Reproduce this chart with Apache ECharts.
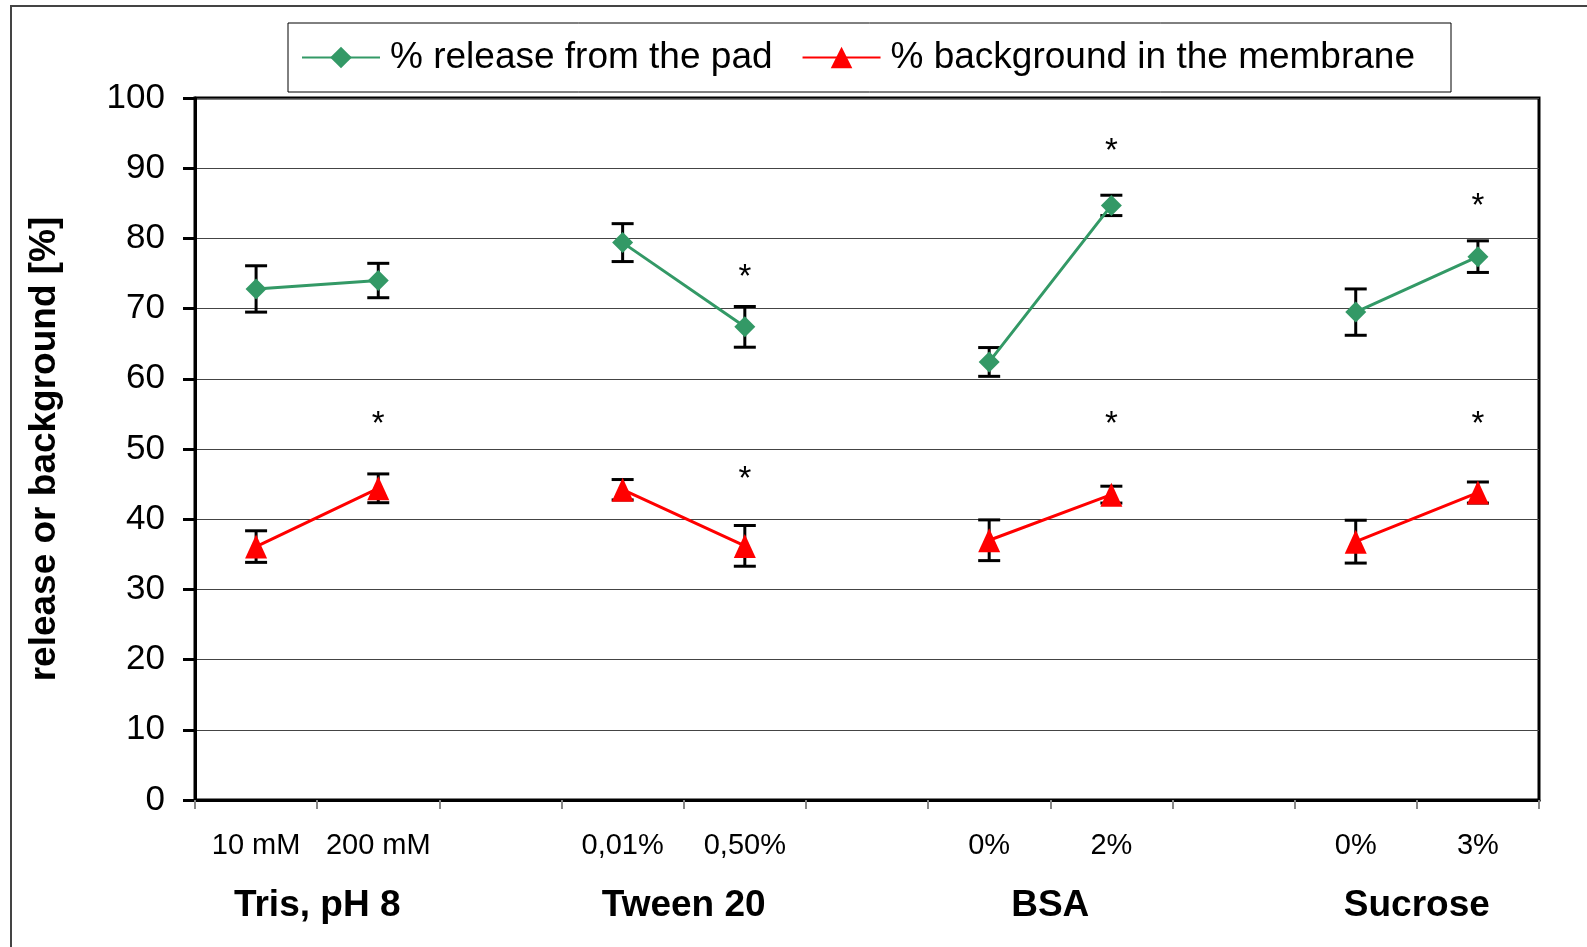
<!DOCTYPE html>
<html>
<head>
<meta charset="utf-8">
<script src="https://cdn.jsdelivr.net/npm/echarts@6/dist/echarts.min.js"></script>
<style>
html,body{margin:0;padding:0;background:#fff;}
#chart{width:1587px;height:947px;}
</style>
</head>
<body>
<div id="chart"></div>
<script>
// ---- data ----
var catLabels = ['10 mM', '200 mM', '', '0,01%', '0,50%', '', '0%', '2%', '', '0%', '3%'];
var groupLabels = ['Tris, pH 8', 'Tween 20', 'BSA', 'Sucrose'];
var groupPositions = [1, 4, 7, 10]; // boundary index between the two categories of each group
var releaseValues = [72.8, 74.0, '-', 79.4, 67.4, '-', 62.4, 84.7, '-', 69.5, 77.4];
var releaseErrors = [3.3, 2.45, '-', 2.7, 2.9, '-', 2.05, 1.45, '-', 3.3, 2.25];
var backgroundValues = [36.1, 44.4, '-', 44.2, 36.2, '-', 37.0, 43.5, '-', 36.8, 43.8];
var backgroundErrors = [2.25, 2.05, '-', 1.45, 2.9, '-', 2.9, 1.2, '-', 3.05, 1.5];
var releaseStars = [[4, 75.5], [7, 93.4], [10, 85.6]];
var backgroundStars = [[1, 54.6], [4, 46.7], [7, 54.6], [10, 54.6]];
var yTicks = [0, 10, 20, 30, 40, 50, 60, 70, 80, 90, 100];

var seriesNames = ['% release from the pad', '% background in the membrane'];
var green = '#339966';
var red = '#ff0000';

function errData(vals, errs) {
  var out = [];
  for (var i = 0; i < vals.length; i++) {
    if (vals[i] === '-') continue;
    out.push([i, vals[i] - errs[i], vals[i] + errs[i]]);
  }
  return out;
}

function renderErr(params, api) {
  var x = api.value(0);
  var lo = api.coord([x, api.value(1)]);
  var hi = api.coord([x, api.value(2)]);
  var hw = 11;
  var st = {stroke: '#000', lineWidth: 3};
  return {
    type: 'group',
    children: [
      {type: 'line', shape: {x1: lo[0], y1: lo[1], x2: hi[0], y2: hi[1]}, style: st},
      {type: 'line', shape: {x1: lo[0] - hw, y1: lo[1], x2: lo[0] + hw, y2: lo[1]}, style: st},
      {type: 'line', shape: {x1: hi[0] - hw, y1: hi[1], x2: hi[0] + hw, y2: hi[1]}, style: st}
    ]
  };
}

function renderStar(params, api) {
  var p = api.coord([api.value(0), api.value(1)]);
  return {
    type: 'text',
    style: {
      x: p[0], y: p[1] + 8, text: '*',
      fill: '#000', font: '33px "Liberation Sans", Arial, sans-serif',
      align: 'center', verticalAlign: 'middle'
    }
  };
}

var chart = echarts.init(document.getElementById('chart'), null, {renderer: 'canvas'});
var font = '"Liberation Sans", Arial, sans-serif';

chart.setOption({
  animation: false,
  backgroundColor: '#fff',
  textStyle: {fontFamily: font},
  graphic: [{
    type: 'rect', silent: true, z: -10,
    shape: {x: 11, y: 6, width: 1700, height: 1100},
    style: {fill: 'none', stroke: '#444', lineWidth: 2}
  }],
  legend: {
    data: seriesNames,
    left: 288, top: 23,
    orient: 'horizontal',
    itemWidth: 78, itemHeight: 27, itemGap: 29,
    padding: [16, 36, 16, 13],
    borderColor: '#000', borderWidth: 1,
    textStyle: {fontSize: 37, color: '#000', fontFamily: font, padding: [0, 0, 0, 5]}
  },
  grid: {
    left: 195, right: 48, top: 98, bottom: 147,
    show: true, borderColor: '#000', borderWidth: 3, backgroundColor: 'transparent'
  },
  xAxis: [{
    type: 'category',
    data: catLabels.map(function (d, i) { return 'c' + i; }),
    boundaryGap: true,
    axisLine: {lineStyle: {color: '#000', width: 3}},
    axisTick: {show: true, interval: 0, length: 9, lineStyle: {color: '#888', width: 2}},
    axisLabel: {
      interval: 0, margin: 31, fontSize: 29, color: '#000', fontFamily: font,
      formatter: function (v, i) { return catLabels[i]; }
    },
    splitLine: {show: false}
  }, {
    type: 'value',
    position: 'bottom',
    min: 0, max: 11, interval: 1,
    axisLine: {show: false}, axisTick: {show: false}, splitLine: {show: false},
    axisLabel: {
      margin: 87, fontSize: 37, fontWeight: 'bold', color: '#000', fontFamily: font,
      showMinLabel: true, showMaxLabel: true,
      formatter: function (v) {
        var k = groupPositions.indexOf(Math.round(v));
        return k >= 0 ? groupLabels[k] : '';
      }
    }
  }],
  yAxis: {
    type: 'value',
    min: yTicks[0], max: yTicks[yTicks.length - 1], interval: 10,
    name: 'release or background [%]',
    nameLocation: 'middle', nameGap: 132,
    nameTextStyle: {fontSize: 37, fontWeight: 'bold', color: '#000', fontFamily: font},
    axisLine: {show: true, lineStyle: {color: '#000', width: 3}},
    axisTick: {show: true, length: 12, lineStyle: {color: '#000', width: 3}},
    axisLabel: {margin: 30, fontSize: 35, color: '#000', fontFamily: font},
    splitLine: {show: true, lineStyle: {color: '#444', width: 1}}
  },
  series: [{
    type: 'custom', xAxisIndex: 0, yAxisIndex: 0, z: 1,
    renderItem: renderErr, data: errData(releaseValues, releaseErrors), silent: true
  }, {
    type: 'custom', xAxisIndex: 0, yAxisIndex: 0, z: 1,
    renderItem: renderErr, data: errData(backgroundValues, backgroundErrors), silent: true
  }, {
    name: seriesNames[0], type: 'line', xAxisIndex: 0, yAxisIndex: 0, z: 3,
    data: releaseValues, connectNulls: false,
    symbol: 'diamond', symbolSize: 21, showAllSymbol: true,
    lineStyle: {color: green, width: 3},
    itemStyle: {color: green}
  }, {
    name: seriesNames[1], type: 'line', xAxisIndex: 0, yAxisIndex: 0, z: 3,
    data: backgroundValues, connectNulls: false,
    symbol: 'triangle', symbolSize: [22, 24], showAllSymbol: true,
    lineStyle: {color: red, width: 3},
    itemStyle: {color: red}
  }, {
    type: 'custom', xAxisIndex: 0, yAxisIndex: 0, z: 4,
    renderItem: renderStar, data: releaseStars, silent: true
  }, {
    type: 'custom', xAxisIndex: 0, yAxisIndex: 0, z: 4,
    renderItem: renderStar, data: backgroundStars, silent: true
  }]
});
</script>
</body>
</html>
